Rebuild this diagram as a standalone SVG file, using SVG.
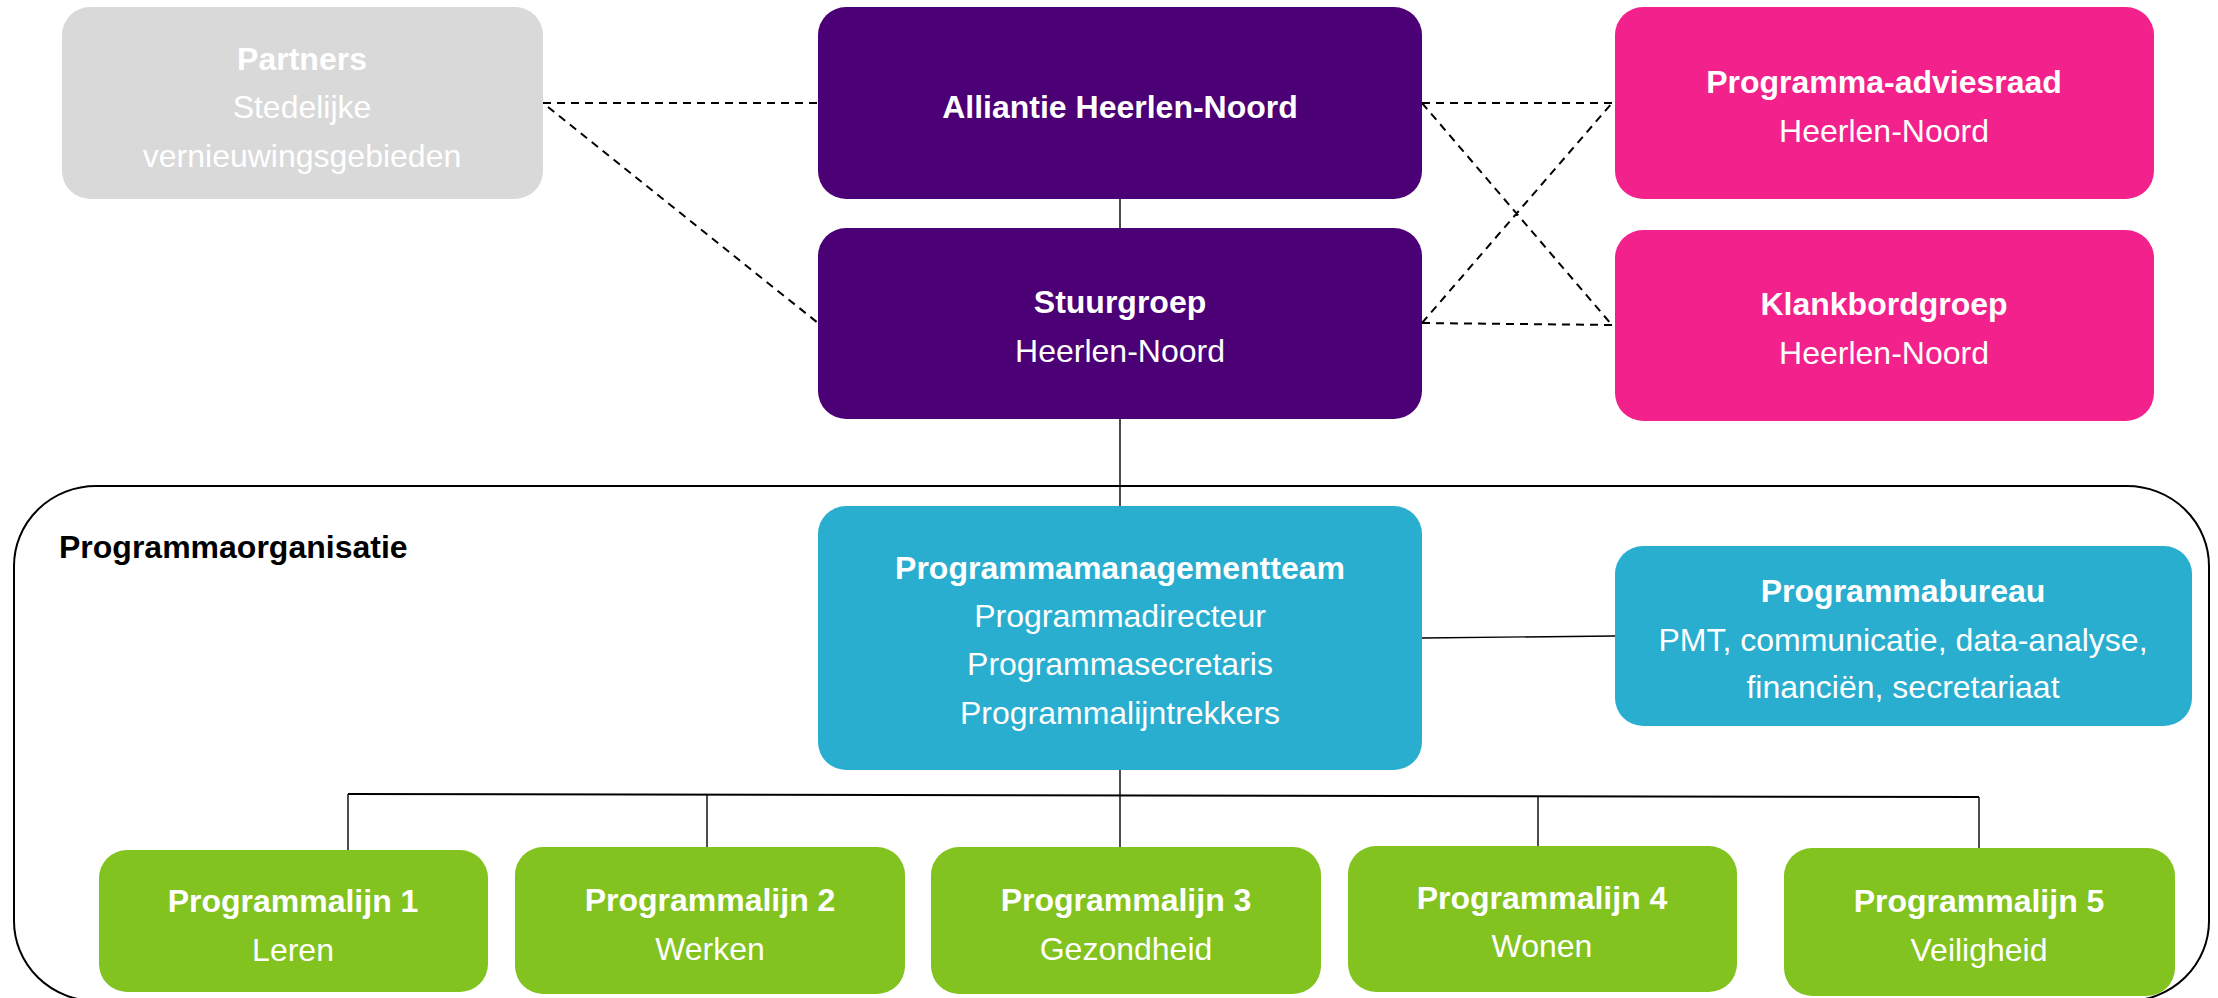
<svg xmlns="http://www.w3.org/2000/svg" width="2218" height="998" viewBox="0 0 2218 998">
<style>
text{font-family:"Liberation Sans",Arial,sans-serif;font-size:32px;fill:#fff;text-anchor:middle}
.b{font-weight:bold}
.lbl{fill:#000;text-anchor:start;font-weight:bold}
.gray{fill:#D9D9D9}
.purple{fill:#4B0076}
.pink{fill:#F2218B}
.blue{fill:#29AED0}
.green{fill:#82C31F}
.dash{stroke:#000;stroke-width:2;stroke-dasharray:8 6;fill:none}
.solid{stroke:#000;stroke-width:1.4;fill:none}
</style>
<g id="container">
<rect x="14" y="486" width="2195" height="515" rx="82" ry="80" fill="none" stroke="#000" stroke-width="2"/>
<text class="lbl" x="59" y="558">Programmaorganisatie</text>
</g>
<g id="connectors">
<path class="dash" d="M543 103H818M548 107L818 323"/>
<path class="dash" d="M1422 103H1612M1422 103L1612 325M1422 323L1612 103M1422 323L1612 325"/>
<path class="solid" d="M1120 199V228M1120 419V506M1422 638L1615 636"/>
<path class="solid" d="M1120 770V847"/>
<path stroke="#000" stroke-width="2" fill="none" d="M348 794L1979 797"/>
<path class="solid" d="M348 794V850M707 794V847M1538 796V846M1979 797V848"/>
</g>
<g id="partners">
<rect class="gray" x="62" y="7" width="481" height="192" rx="28"/>
<text class="b" x="302" y="70">Partners</text>
<text x="302" y="118">Stedelijke</text>
<text x="302" y="167">vernieuwingsgebieden</text>
</g>
<g id="alliantie">
<rect class="purple" x="818" y="7" width="604" height="192" rx="28"/>
<text class="b" x="1120" y="118">Alliantie Heerlen-Noord</text>
</g>
<g id="stuurgroep">
<rect class="purple" x="818" y="228" width="604" height="191" rx="28"/>
<text class="b" x="1120" y="313">Stuurgroep</text>
<text x="1120" y="362">Heerlen-Noord</text>
</g>
<g id="adviesraad">
<rect class="pink" x="1615" y="7" width="539" height="192" rx="28"/>
<text class="b" x="1884" y="93">Programma-adviesraad</text>
<text x="1884" y="142">Heerlen-Noord</text>
</g>
<g id="klankbordgroep">
<rect class="pink" x="1615" y="230" width="539" height="191" rx="28"/>
<text class="b" x="1884" y="315">Klankbordgroep</text>
<text x="1884" y="364">Heerlen-Noord</text>
</g>
<g id="pmt">
<rect class="blue" x="818" y="506" width="604" height="264" rx="28"/>
<text class="b" x="1120" y="579">Programmamanagementteam</text>
<text x="1120" y="627">Programmadirecteur</text>
<text x="1120" y="675">Programmasecretaris</text>
<text x="1120" y="724">Programmalijntrekkers</text>
</g>
<g id="bureau">
<rect class="blue" x="1615" y="546" width="577" height="180" rx="28"/>
<text class="b" x="1903" y="602">Programmabureau</text>
<text x="1903" y="651">PMT, communicatie, data-analyse,</text>
<text x="1903" y="698">financiën, secretariaat</text>
</g>
<g id="lijn1">
<rect class="green" x="99" y="850" width="389" height="142" rx="28"/>
<text class="b" x="293" y="912">Programmalijn 1</text>
<text x="293" y="961">Leren</text>
</g>
<g id="lijn2">
<rect class="green" x="515" y="847" width="390" height="147" rx="28"/>
<text class="b" x="710" y="911">Programmalijn 2</text>
<text x="710" y="960">Werken</text>
</g>
<g id="lijn3">
<rect class="green" x="931" y="847" width="390" height="147" rx="28"/>
<text class="b" x="1126" y="911">Programmalijn 3</text>
<text x="1126" y="960">Gezondheid</text>
</g>
<g id="lijn4">
<rect class="green" x="1348" y="846" width="389" height="146" rx="28"/>
<text class="b" x="1542" y="909">Programmalijn 4</text>
<text x="1542" y="957">Wonen</text>
</g>
<g id="lijn5">
<rect class="green" x="1784" y="848" width="391" height="148" rx="28"/>
<text class="b" x="1979" y="912">Programmalijn 5</text>
<text x="1979" y="961">Veiligheid</text>
</g>
</svg>
